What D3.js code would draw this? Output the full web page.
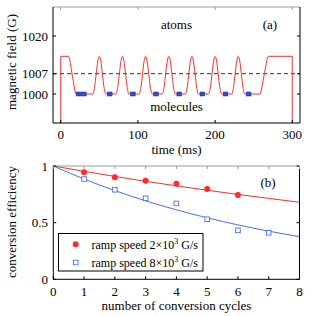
<!DOCTYPE html>
<html>
<head>
<meta charset="utf-8">
<script src="https://cdn.jsdelivr.net/npm/d3@7"></script>
<style>
  body { margin: 0; background: white; }
</style>
</head>
<body>
<script>
// ---- panel (a) data ----
var rampStart = [[0, 1013], [10, 1013], [15, 1006.5], [20, 1000]];   // initial ramp down
var pulseCenters = [50, 80, 110, 140, 170, 200, 230];               // ms
var pulseOffsets = [-8.5, -6, -4, -2, 0, 2, 4, 6, 8.5];              // shape of one pulse
var pulseValues = [1000, 1002.5, 1007, 1011.3, 1013, 1011.3, 1007, 1002.5, 1000];
var rampEnd = [[258, 1000], [263.5, 1006.5], [269, 1013], [300, 1013]];
var molStart = [20, 60.5, 90.5, 120.5, 150.5, 180.5, 210.5, 240.5];  // blue molecule bars
var molEnd = [33, 66.5, 96.5, 126.5, 156.5, 186.5, 216.5, 246.5];
var fieldTicks = [1000, 1007, 1020];
var timeTicks = [0, 100, 200, 300];

// ---- panel (b) data ----
var cycles = [1, 2, 3, 4, 5, 6, 7];
var eff2k = [0.944, 0.90, 0.87, 0.844, 0.797, 0.744];
var eff8k = [0.885, 0.79, 0.715, 0.67, 0.53, 0.432, 0.41];
var fitX = [0, 1, 2, 3, 4, 5, 6, 7, 8];
var fit2k = [1, 0.953, 0.908, 0.865, 0.825, 0.786, 0.749, 0.714, 0.68];
var fit8k = [1, 0.885, 0.783, 0.693, 0.613, 0.543, 0.480, 0.425, 0.376];
var effTicks = [0, 0.5, 1];
var cycleTicks = [0, 1, 2, 3, 4, 5, 6, 7, 8];

var red = "#ff2a2a", blue = "#4a6cff", molFill = "#2f4fd8";
var serif = "'Liberation Serif', 'Times New Roman', serif";

var svg = d3.select("body").append("svg")
  .attr("width", 314).attr("height", 316)
  .attr("font-family", serif);

var tick = 3;

function frame(x0, x1, y0, y1) {
  // top border grey like the original, others black
  svg.append("line").attr("x1", x0).attr("x2", x1).attr("y1", y0).attr("y2", y0)
    .attr("stroke", "#999").attr("stroke-width", 1.2);
  svg.append("path")
    .attr("d", `M${x1},${y0}V${y1}H${x0}V${y0}`)
    .attr("fill", "none").attr("stroke", "black").attr("stroke-width", 1);
}

// ================= panel (a) =================
var xa = d3.scaleLinear().domain([-10, 310]).range([53, 300]);
var ya = d3.scaleLinear().domain([990, 1030]).range([123, 7]);

// dashed threshold
svg.append("line")
  .attr("x1", xa(-10)).attr("x2", xa(310))
  .attr("y1", ya(1007)).attr("y2", ya(1007))
  .attr("stroke", "black").attr("stroke-width", 0.8)
  .attr("stroke-dasharray", "4,3");

// build field curve points
var pts = rampStart.slice();
pts.push([33, 1000]);
pulseCenters.forEach(function(c) {
  pulseOffsets.forEach(function(o, i) { pts.push([c + o, pulseValues[i]]); });
});
pts = pts.concat(rampEnd);

var fieldLine = d3.line()
  .x(function(d) { return xa(d[0]); })
  .y(function(d) { return ya(d[1]); })
  .curve(d3.curveMonotoneX);

var dPath = `M${xa(0)},${ya(990)}` + fieldLine(pts).replace(/^M/, "L") + `L${xa(300)},${ya(990)}`;
svg.append("path").attr("d", dPath)
  .attr("fill", "none").attr("stroke", red).attr("stroke-width", 1);

// molecule markers
svg.selectAll(".mol")
  .data(molStart)
  .enter().append("rect")
  .attr("x", function(d) { return xa(d); })
  .attr("width", function(d, i) { return xa(molEnd[i]) - xa(d); })
  .attr("y", ya(1000) - 2).attr("height", 4)
  .attr("fill", molFill).attr("stroke", "#1a2a80").attr("stroke-width", 0.5);

frame(53, 300, 7, 123);

// ticks (inward, both sides)
fieldTicks.forEach(function(t) {
  svg.append("line").attr("x1", 53).attr("x2", 53 + tick).attr("y1", ya(t)).attr("y2", ya(t)).attr("stroke", "black");
  svg.append("line").attr("x1", 300).attr("x2", 300 - tick).attr("y1", ya(t)).attr("y2", ya(t)).attr("stroke", "black");
  svg.append("text").text(t).attr("x", 48).attr("y", ya(t) + 4.5)
    .attr("text-anchor", "end").attr("font-size", 13);
});
timeTicks.forEach(function(t) {
  svg.append("line").attr("x1", xa(t)).attr("x2", xa(t)).attr("y1", 123).attr("y2", 123 - tick).attr("stroke", "black");
  svg.append("line").attr("x1", xa(t)).attr("x2", xa(t)).attr("y1", 7).attr("y2", 7 + tick).attr("stroke", "#999");
  svg.append("text").text(t).attr("x", xa(t)).attr("y", 138.5)
    .attr("text-anchor", "middle").attr("font-size", 13);
});

svg.append("text").text("time (ms)").attr("x", 176.5).attr("y", 153.5)
  .attr("text-anchor", "middle").attr("font-size", 13);
svg.append("text").text("magnetic field (G)")
  .attr("transform", "translate(16,62)rotate(-90)")
  .attr("text-anchor", "middle").attr("font-size", 13);
svg.append("text").text("atoms").attr("x", xa(150)).attr("y", ya(1022.3))
  .attr("text-anchor", "middle").attr("font-size", 13);
svg.append("text").text("molecules").attr("x", xa(150)).attr("y", ya(994.3))
  .attr("text-anchor", "middle").attr("font-size", 13);
svg.append("text").text("(a)").attr("x", xa(271)).attr("y", ya(1022.3))
  .attr("text-anchor", "middle").attr("font-size", 13);

// ================= panel (b) =================
var xb = d3.scaleLinear().domain([0, 8]).range([53.3, 299.5]);
var yb = d3.scaleLinear().domain([0, 1]).range([279.3, 166]);

var fitLine = function(vals) {
  return d3.line()
    .x(function(d, i) { return xb(fitX[i]); })
    .y(function(d) { return yb(d); })
    .curve(d3.curveMonotoneX)(vals);
};
svg.append("path").attr("d", fitLine(fit2k)).attr("fill", "none").attr("stroke", red).attr("stroke-width", 1);
svg.append("path").attr("d", fitLine(fit8k)).attr("fill", "none").attr("stroke", blue).attr("stroke-width", 1);

svg.selectAll(".dot2k").data(eff2k).enter().append("circle")
  .attr("cx", function(d, i) { return xb(cycles[i]); })
  .attr("cy", function(d) { return yb(d); })
  .attr("r", 3).attr("fill", red);

svg.selectAll(".sq8k").data(eff8k).enter().append("rect")
  .attr("x", function(d, i) { return xb(cycles[i]) - 2.3; })
  .attr("y", function(d) { return yb(d) - 2.3; })
  .attr("width", 4.6).attr("height", 4.6)
  .attr("fill", "white").attr("stroke", blue).attr("stroke-width", 0.9);

frame(53.3, 299.5, 166, 279.3);

effTicks.forEach(function(t) {
  svg.append("line").attr("x1", 53.3).attr("x2", 53.3 + tick).attr("y1", yb(t)).attr("y2", yb(t)).attr("stroke", "black");
  svg.append("line").attr("x1", 299.5).attr("x2", 299.5 - tick).attr("y1", yb(t)).attr("y2", yb(t)).attr("stroke", "black");
  svg.append("text").text(t).attr("x", 48).attr("y", yb(t) + 4.5)
    .attr("text-anchor", "end").attr("font-size", 13);
});
cycleTicks.forEach(function(t) {
  svg.append("line").attr("x1", xb(t)).attr("x2", xb(t)).attr("y1", 279.3).attr("y2", 279.3 - tick).attr("stroke", "black");
  svg.append("line").attr("x1", xb(t)).attr("x2", xb(t)).attr("y1", 166).attr("y2", 166 + tick).attr("stroke", "#999");
  svg.append("text").text(t).attr("x", xb(t)).attr("y", 295.5)
    .attr("text-anchor", "middle").attr("font-size", 13);
});

svg.append("text").text("number of conversion cycles").attr("x", 176.5).attr("y", 310)
  .attr("text-anchor", "middle").attr("font-size", 13);
svg.append("text").text("conversion efficiency")
  .attr("transform", "translate(16,222)rotate(-90)")
  .attr("text-anchor", "middle").attr("font-size", 13);
svg.append("text").text("(b)").attr("x", 268).attr("y", 186.5)
  .attr("text-anchor", "middle").attr("font-size", 13);

// legend
svg.append("rect").attr("x", 58.5).attr("y", 233.5).attr("width", 144.5).attr("height", 37.5)
  .attr("fill", "white").attr("stroke", "black").attr("stroke-width", 1);
svg.append("circle").attr("cx", 75.7).attr("cy", 244.3).attr("r", 3).attr("fill", red);
svg.append("rect").attr("x", 75.7 - 2.3).attr("y", 262.5 - 2.3).attr("width", 4.6).attr("height", 4.6)
  .attr("fill", "white").attr("stroke", blue).attr("stroke-width", 0.9);

var legendLabels = ["2", "8"];
legendLabels.forEach(function(n, i) {
  var t = svg.append("text").attr("x", 91.5).attr("y", 248.5 + i * 18.3).attr("font-size", 12);
  t.append("tspan").text("ramp speed " + n + "\u00d710");
  t.append("tspan").text("3").attr("font-size", 8).attr("dy", -5);
  t.append("tspan").text(" G/s").attr("dy", 5);
});
</script>
</body>
</html>
